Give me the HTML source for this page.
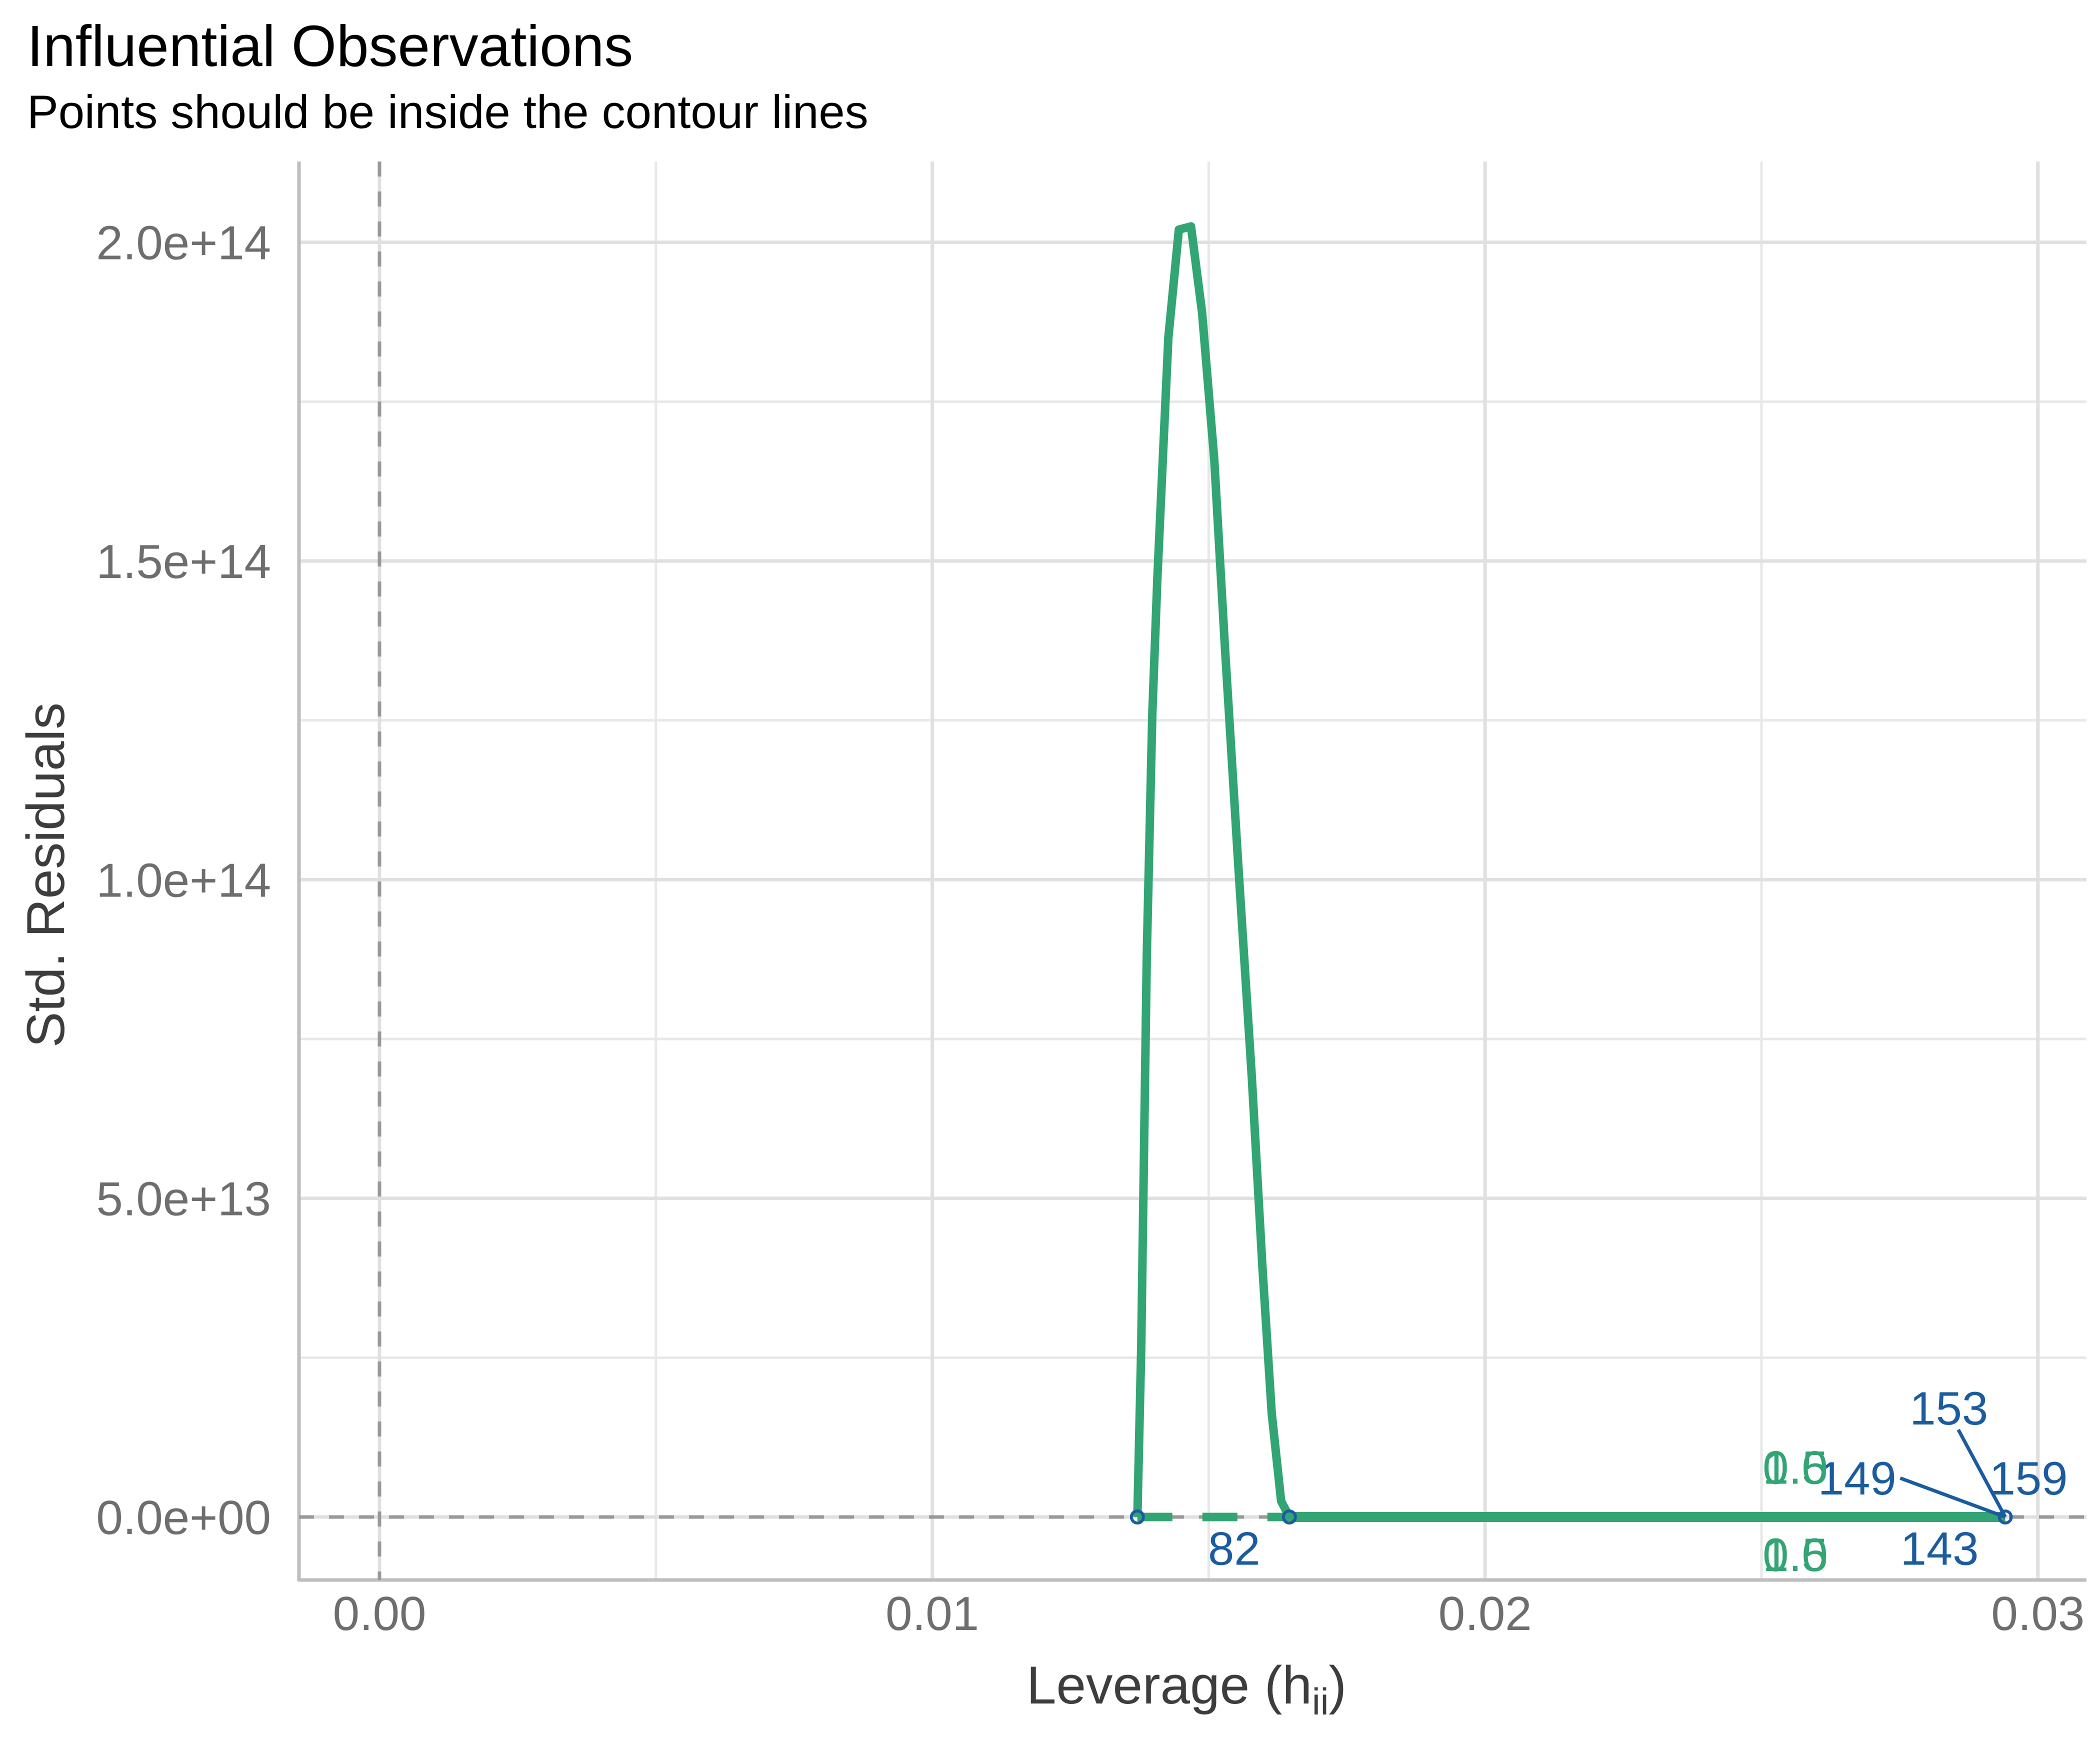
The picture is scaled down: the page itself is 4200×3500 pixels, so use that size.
<!DOCTYPE html>
<html><head><meta charset="utf-8"><style>
html,body{margin:0;padding:0;background:#fff;}
svg{display:block;font-family:"Liberation Sans",Arial,sans-serif;}
</style></head><body>
<svg id="chart" width="4200" height="3500" viewBox="0 0 4200 3500" xmlns="http://www.w3.org/2000/svg">
<text x="54" y="132" font-size="116" fill="#000">Influential Observations</text>
<text x="54" y="256" font-size="94" fill="#000">Points should be inside the contour lines</text>
<g id="grid"></g>
<g id="axes"></g>
<g id="marks"></g>
<text x="2373" y="3407" font-size="107" fill="#3d3d3d" text-anchor="middle">Leverage (h<tspan font-size="75" dy="22">ii</tspan><tspan dy="-22">)</tspan></text>
<text transform="translate(128,1750) rotate(-90)" font-size="107" fill="#3d3d3d" text-anchor="middle">Std. Residuals</text>
</svg>
<script>
const xTicks=[0,0.01,0.02,0.03];
const xTickLabels=["0.00","0.01","0.02","0.03"];
const xMinor=[0.005,0.015,0.025];
const yTicks=[0,5e13,1e14,1.5e14,2e14];
const yTickLabels=["0.0e+00","5.0e+13","1.0e+14","1.5e+14","2.0e+14"];
const yMinor=[2.5e13,7.5e13,1.25e14,1.75e14];
const curveX=[0.01371,0.01378,0.01388,0.01398,0.01407,0.01427,0.01446,0.01468,0.01488,0.01510,0.01529,0.01553,0.01578,0.01597,0.01614,0.01631,0.01646];
const curveY=[0,2.68e13,8.81e13,1.26e14,1.47e14,1.85e14,2.02e14,2.025e14,1.89e14,1.66e14,1.37e14,1.03e14,6.9e13,3.95e13,1.63e13,2.5e12,0];
const flatX=[0.01646,0.02941];
const flatY=[0,0];
const dashX=[0.01371,0.01646];
const pointX=[0.01371,0.01646,0.02941];
const pointY=[0,0,0];
const obsLabels=["82","143","149","153","159"];
const obsLabelX=[0.01546,0.02822,0.02673,0.02839,0.02983];
const obsLabelY=[-4.9e12,-4.9e12,6.1e12,1.71e13,6.1e12];
const leaderFromX=[null,null,0.02751,0.02856,null];
const leaderFromY=[null,null,6.1e12,1.37e13,null];
const leaderToX=[null,null,0.02941,0.02941,null];
const contourLabels=["0.5","1.0","0.5","1.0"];
const contourLabelX=[0.02561,0.02561,0.02561,0.02561];
const contourLabelY=[7.8e12,7.8e12,-5.9e12,-5.9e12];

const NS="http://www.w3.org/2000/svg";
const L=598,R=4173,T=323,B=3160;
const sx=v=>759+v*110560;
const sy=v=>3034-v*1.27466e-11;
function mk(p,tag,a){const e=document.createElementNS(NS,tag);for(const k in a)e.setAttribute(k,a[k]);p.appendChild(e);return e;}
const grid=document.getElementById('grid'),axes=document.getElementById('axes'),marks=document.getElementById('marks');
xMinor.forEach(v=>{const e=mk(grid,'line',{x1:sx(v),x2:sx(v),y1:T,y2:B,stroke:'#e8e8e8','stroke-width':5});

});
yMinor.forEach(v=>{const e=mk(grid,'line',{x1:L,x2:R,y1:sy(v),y2:sy(v),stroke:'#e8e8e8','stroke-width':5});

});
xTicks.forEach((v,i)=>{const e=mk(grid,'line',{x1:sx(v),x2:sx(v),y1:T,y2:B,stroke:'#e0e0e0','stroke-width':7});


const t=mk(axes,'text',{x:sx(v),y:3260,'font-size':96,fill:'#6e6e6e','text-anchor':'middle'});t.textContent=xTickLabels[i];

});
yTicks.forEach((v,i)=>{const e=mk(grid,'line',{x1:L,x2:R,y1:sy(v),y2:sy(v),stroke:'#e0e0e0','stroke-width':7});


const t=mk(axes,'text',{x:542,y:sy(v)+34,'font-size':96,fill:'#6e6e6e','text-anchor':'end'});t.textContent=yTickLabels[i];

});
let a=mk(axes,'line',{x1:L,x2:L,y1:T,y2:B+3,stroke:'#bebebe','stroke-width':7});

a=mk(axes,'line',{x1:L,x2:R,y1:B,y2:B,stroke:'#bebebe','stroke-width':7});

a=mk(marks,'line',{x1:sx(0),x2:sx(0),y1:T,y2:B,stroke:'#999','stroke-width':7,'stroke-dasharray':'30 30'});

a=mk(marks,'line',{x1:L,x2:R,y1:sy(0),y2:sy(0),stroke:'#999','stroke-width':7,'stroke-dasharray':'30 30'});

let d=curveX.map((x,i)=>(i?'L':'M')+sx(x)+' '+sy(curveY[i])).join(' ');
a=mk(marks,'path',{d:d,fill:'none',stroke:'#33a474','stroke-width':17,'stroke-linejoin':'round'});

a=mk(marks,'line',{x1:sx(dashX[0]),x2:sx(dashX[1]),y1:sy(0),y2:sy(0),stroke:'#33a474','stroke-width':17,'stroke-dasharray':'70 60'});

d=flatX.map((x,i)=>(i?'L':'M')+sx(x)+' '+sy(flatY[i])).join(' ');
a=mk(marks,'path',{d:d,fill:'none',stroke:'#33a474','stroke-width':20});

pointX.forEach((x,i)=>{const c=mk(marks,'circle',{cx:sx(x),cy:sy(pointY[i]),r:12,fill:'none',stroke:'#1b5c9e','stroke-width':6});

});
obsLabels.forEach((s,i)=>{
 if(leaderFromX[i]!==null){const ln=mk(marks,'line',{x1:sx(leaderFromX[i]),y1:sy(leaderFromY[i]),x2:sx(leaderToX[i]),y2:sy(0),stroke:'#1b5c9e','stroke-width':7});
 
 }
 const t=mk(marks,'text',{x:sx(obsLabelX[i]),y:sy(obsLabelY[i])+33,'font-size':94,fill:'#1b5c9e','text-anchor':'middle'});t.textContent=s;
 
 });
contourLabels.forEach((s,i)=>{const t=mk(marks,'text',{x:sx(contourLabelX[i]),y:sy(contourLabelY[i])+33,'font-size':94,fill:'#33a474','text-anchor':'middle'});t.textContent=s;
 
 });
</script>
</body></html>
